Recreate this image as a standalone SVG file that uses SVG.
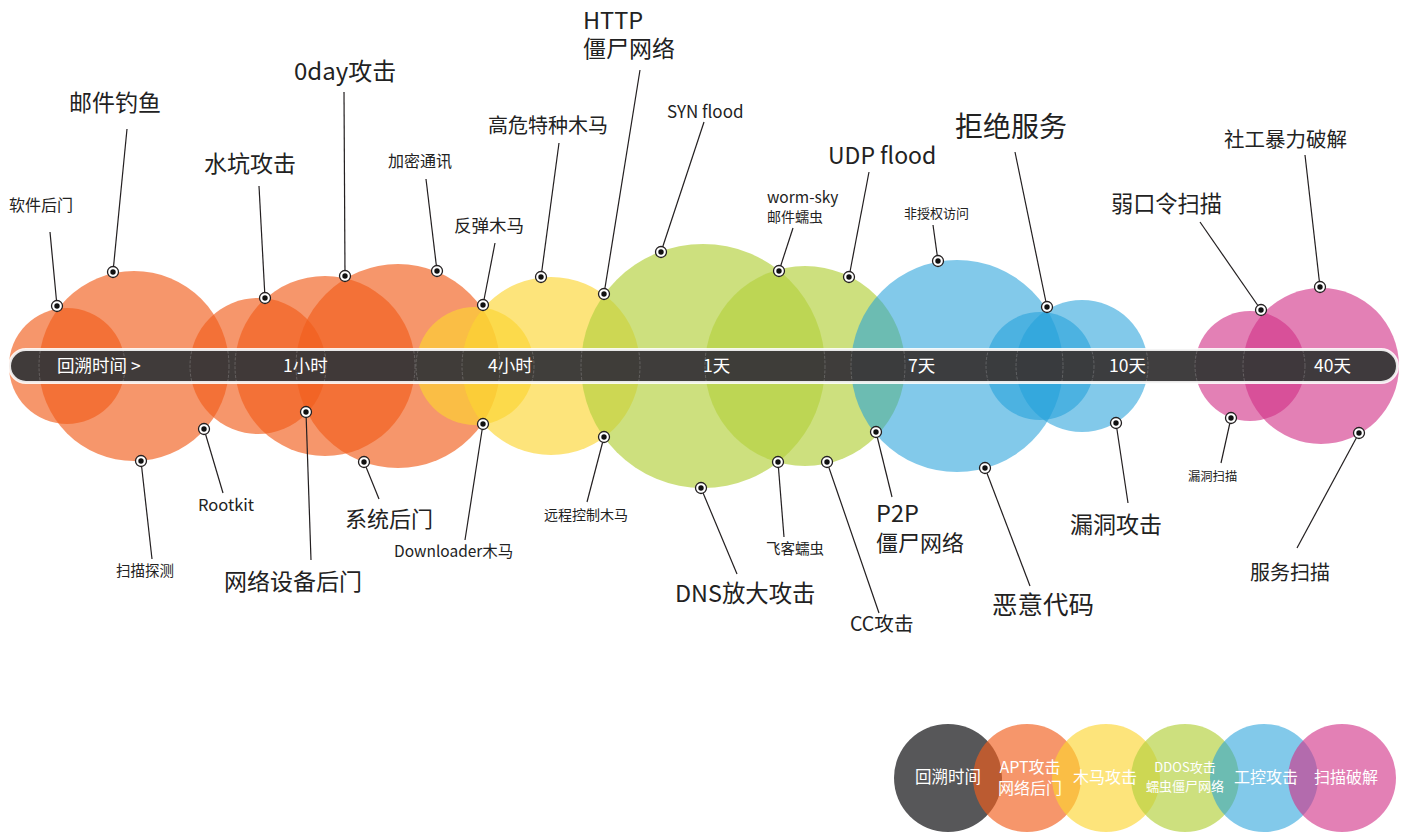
<svg xmlns="http://www.w3.org/2000/svg" xmlns:xlink="http://www.w3.org/1999/xlink" width="1409" height="835" viewBox="0 0 1409 835">
<style>
  text { font-family: "Noto Sans CJK SC", "Noto Sans", sans-serif; fill: #222; }
  .o { fill: rgb(241,93,27); fill-opacity: 0.65; }
  .y { fill: rgb(252,213,49); fill-opacity: 0.64; }
  .g { fill: rgb(181,209,65); fill-opacity: 0.68; }
  .b { fill: rgb(35,160,218); fill-opacity: 0.57; }
  .p { fill: rgb(210,50,135); fill-opacity: 0.62; }
  .edge { fill: none; stroke: #ffffff; stroke-opacity: 0.22; stroke-width: 0.9; stroke-dasharray: 3 1.5; }
  .bar { fill: #3a3839; fill-opacity: 0.97; stroke: #ffffff; stroke-opacity: 0.88; stroke-width: 3; }
  .tl { fill: #ffffff; font-size: 17.5px; }
  .ln { stroke: #231f20; stroke-width: 1.2; fill: none; }
  .lg { fill: #ffffff; text-anchor: middle; }
</style>
<defs>
  <g id="dot">
    <circle r="5.5" fill="#ffffff" stroke="#231f20" stroke-width="1.3"/>
    <circle r="2.7" fill="#111111"/>
  </g>
  <clipPath id="barclip">
    <rect x="11" y="351" width="1385" height="30" rx="15"/>
  </clipPath>
</defs>

<g id="bubbles">
  <circle id="o1" class="o" cx="67" cy="366" r="58"/>
  <circle id="o2" class="o" cx="134" cy="366" r="95"/>
  <circle id="o3" class="o" cx="258" cy="366" r="68"/>
  <circle id="o4" class="o" cx="325" cy="366" r="90"/>
  <circle id="o5" class="o" cx="398" cy="366" r="102"/>
  <circle id="y1" class="y" cx="475" cy="366" r="59"/>
  <circle id="y2" class="y" cx="551" cy="366" r="89"/>
  <circle id="g1" class="g" cx="703" cy="366" r="122"/>
  <circle id="g2" class="g" cx="805" cy="366" r="100"/>
  <circle id="b1" class="b" cx="957" cy="366" r="106"/>
  <circle id="b2" class="b" cx="1040" cy="366" r="54"/>
  <circle id="b3" class="b" cx="1082" cy="366" r="66"/>
  <circle id="p1" class="p" cx="1250" cy="366" r="55"/>
  <circle id="p2" class="p" cx="1321" cy="366" r="78"/>
</g>

<g id="timeline">
  <rect class="bar" x="9.5" y="349.5" width="1388" height="33" rx="16.5"/>
  <g clip-path="url(#barclip)">
    <circle class="edge" cx="67" cy="366" r="58"/>
    <circle class="edge" cx="134" cy="366" r="95"/>
    <circle class="edge" cx="258" cy="366" r="68"/>
    <circle class="edge" cx="325" cy="366" r="90"/>
    <circle class="edge" cx="398" cy="366" r="102"/>
    <circle class="edge" cx="475" cy="366" r="59"/>
    <circle class="edge" cx="551" cy="366" r="89"/>
    <circle class="edge" cx="703" cy="366" r="122"/>
    <circle class="edge" cx="805" cy="366" r="100"/>
    <circle class="edge" cx="957" cy="366" r="106"/>
    <circle class="edge" cx="1040" cy="366" r="54"/>
    <circle class="edge" cx="1082" cy="366" r="66"/>
    <circle class="edge" cx="1250" cy="366" r="55"/>
    <circle class="edge" cx="1321" cy="366" r="78"/>
  </g>
  <text class="tl" x="57" y="372">回溯时间 &gt;</text>
  <text class="tl" x="283" y="372">1小时</text>
  <text class="tl" x="488" y="372">4小时</text>
  <text class="tl" x="703" y="372">1天</text>
  <text class="tl" x="908" y="372">7天</text>
  <text class="tl" x="1109" y="372">10天</text>
  <text class="tl" x="1314" y="372">40天</text>
</g>

<g id="connectors">
  <line class="ln" x1="50" y1="232" x2="57" y2="306"/>
  <line class="ln" x1="127" y1="129" x2="113" y2="272"/>
  <line class="ln" x1="141" y1="461" x2="152" y2="559"/>
  <line class="ln" x1="204" y1="429" x2="223" y2="493"/>
  <line class="ln" x1="259" y1="186" x2="265" y2="298"/>
  <line class="ln" x1="306" y1="412" x2="311" y2="560"/>
  <line class="ln" x1="344" y1="92" x2="345" y2="276"/>
  <line class="ln" x1="364" y1="462" x2="379" y2="499"/>
  <line class="ln" x1="426" y1="179" x2="437" y2="271"/>
  <line class="ln" x1="495" y1="243" x2="483" y2="305"/>
  <line class="ln" x1="483" y1="424" x2="465" y2="540"/>
  <line class="ln" x1="559" y1="143" x2="541" y2="277"/>
  <line class="ln" x1="604" y1="437" x2="587" y2="502"/>
  <line class="ln" x1="640" y1="70" x2="604" y2="294"/>
  <line class="ln" x1="704" y1="122" x2="661" y2="252"/>
  <line class="ln" x1="701" y1="488" x2="737" y2="574"/>
  <line class="ln" x1="793" y1="228" x2="779" y2="271"/>
  <line class="ln" x1="778" y1="462" x2="784" y2="537"/>
  <line class="ln" x1="869" y1="172" x2="849" y2="277"/>
  <line class="ln" x1="827" y1="462" x2="879" y2="613"/>
  <line class="ln" x1="876" y1="432" x2="892" y2="497"/>
  <line class="ln" x1="933" y1="225" x2="938" y2="261"/>
  <line class="ln" x1="1015" y1="152" x2="1047" y2="307"/>
  <line class="ln" x1="985" y1="468" x2="1030" y2="586"/>
  <line class="ln" x1="1116" y1="423" x2="1128" y2="503"/>
  <line class="ln" x1="1200" y1="222" x2="1261" y2="310"/>
  <line class="ln" x1="1231" y1="418" x2="1221" y2="463"/>
  <line class="ln" x1="1305" y1="155" x2="1320" y2="287"/>
  <line class="ln" x1="1359" y1="433" x2="1297" y2="548"/>
  <use xlink:href="#dot" x="57" y="306"/>
  <use xlink:href="#dot" x="113" y="272"/>
  <use xlink:href="#dot" x="141" y="461"/>
  <use xlink:href="#dot" x="204" y="429"/>
  <use xlink:href="#dot" x="265" y="298"/>
  <use xlink:href="#dot" x="306" y="412"/>
  <use xlink:href="#dot" x="345" y="276"/>
  <use xlink:href="#dot" x="364" y="462"/>
  <use xlink:href="#dot" x="437" y="271"/>
  <use xlink:href="#dot" x="483" y="305"/>
  <use xlink:href="#dot" x="483" y="424"/>
  <use xlink:href="#dot" x="541" y="277"/>
  <use xlink:href="#dot" x="604" y="437"/>
  <use xlink:href="#dot" x="604" y="294"/>
  <use xlink:href="#dot" x="661" y="252"/>
  <use xlink:href="#dot" x="701" y="488"/>
  <use xlink:href="#dot" x="779" y="271"/>
  <use xlink:href="#dot" x="778" y="462"/>
  <use xlink:href="#dot" x="849" y="277"/>
  <use xlink:href="#dot" x="827" y="462"/>
  <use xlink:href="#dot" x="876" y="432"/>
  <use xlink:href="#dot" x="938" y="261"/>
  <use xlink:href="#dot" x="1047" y="307"/>
  <use xlink:href="#dot" x="985" y="468"/>
  <use xlink:href="#dot" x="1116" y="423"/>
  <use xlink:href="#dot" x="1261" y="310"/>
  <use xlink:href="#dot" x="1231" y="418"/>
  <use xlink:href="#dot" x="1320" y="287"/>
  <use xlink:href="#dot" x="1359" y="433"/>
</g>

<g id="labels">
  <g id="n-ruanjian"><text x="9" y="211" font-size="16">软件后门</text></g>
  <g id="n-youjian"><text x="69" y="111" font-size="23">邮件钓鱼</text></g>
  <g id="n-saomiaotance"><text x="116" y="575.5" font-size="14.5">扫描探测</text></g>
  <g id="n-rootkit"><text x="198" y="511" font-size="16.5">Rootkit</text></g>
  <g id="n-shuikeng"><text x="204" y="172" font-size="23">水坑攻击</text></g>
  <g id="n-wangluoshebei"><text x="224" y="590" font-size="23">网络设备后门</text></g>
  <g id="n-0day"><text x="294" y="80" font-size="24">0day攻击</text></g>
  <g id="n-xitong"><text x="345" y="527" font-size="22">系统后门</text></g>
  <g id="n-jiami"><text x="388" y="167" font-size="16">加密通讯</text></g>
  <g id="n-fantan"><text x="454" y="232" font-size="17.5">反弹木马</text></g>
  <g id="n-downloader"><text x="394" y="557" font-size="15.5">Downloader木马</text></g>
  <g id="n-gaowei"><text x="488" y="133" font-size="20">高危特种木马</text></g>
  <g id="n-yuancheng"><text x="544" y="520" font-size="14">远程控制木马</text></g>
  <g id="n-http"><text x="583" y="29" font-size="23.5">HTTP</text><text x="583" y="57" font-size="23">僵尸网络</text></g>
  <g id="n-syn"><text x="667" y="118" font-size="17">SYN flood</text></g>
  <g id="n-dns"><text x="675" y="602" font-size="23.4">DNS放大攻击</text></g>
  <g id="n-worm"><text x="767" y="203" font-size="15.5">worm-sky</text><text x="767" y="222" font-size="14">邮件蠕虫</text></g>
  <g id="n-feike"><text x="766" y="553.5" font-size="14.5">飞客蠕虫</text></g>
  <g id="n-udp"><text x="828" y="164" font-size="23">UDP flood</text></g>
  <g id="n-cc"><text x="850" y="631" font-size="19.6">CC攻击</text></g>
  <g id="n-p2p"><text x="876" y="522" font-size="23.5">P2P</text><text x="876" y="551" font-size="22">僵尸网络</text></g>
  <g id="n-feishouquan"><text x="904" y="218" font-size="13">非授权访问</text></g>
  <g id="n-jujue"><text x="955" y="137" font-size="28">拒绝服务</text></g>
  <g id="n-eyi"><text x="992" y="614" font-size="25.5">恶意代码</text></g>
  <g id="n-loudonggongji"><text x="1070" y="533" font-size="23">漏洞攻击</text></g>
  <g id="n-ruokouling"><text x="1111" y="211.5" font-size="22.2">弱口令扫描</text></g>
  <g id="n-loudongsaomiao"><text x="1188" y="481" font-size="12.3">漏洞扫描</text></g>
  <g id="n-shegong"><text x="1224" y="147" font-size="20.5">社工暴力破解</text></g>
  <g id="n-fuwu"><text x="1250" y="580" font-size="20">服务扫描</text></g>
</g>

<g id="legend">
  <g id="lg-circles">
    <circle id="lg-time" cx="948" cy="778" r="54" fill="#575759"/>
    <circle id="lg-apt" class="o" cx="1027" cy="778" r="54"/>
    <circle id="lg-trojan" class="y" cx="1106" cy="778" r="54"/>
    <circle id="lg-ddos" class="g" cx="1185" cy="778" r="54"/>
    <circle id="lg-ics" class="b" cx="1264" cy="778" r="54"/>
    <circle id="lg-scan" class="p" cx="1342" cy="778" r="54"/>
  </g>
  <g id="lg-labels">
    <text class="lg" x="948" y="783" font-size="16.5">回溯时间</text>
    <text class="lg" x="1030" y="773" font-size="16">APT攻击</text>
    <text class="lg" x="1030" y="794" font-size="16">网络后门</text>
    <text class="lg" x="1105" y="783" font-size="16">木马攻击</text>
    <text class="lg" x="1185" y="772" font-size="13">DDOS攻击</text>
    <text class="lg" x="1185" y="791" font-size="13">蠕虫僵尸网络</text>
    <text class="lg" x="1266" y="783" font-size="16">工控攻击</text>
    <text class="lg" x="1346" y="783" font-size="16">扫描破解</text>
  </g>
</g>
</svg>
